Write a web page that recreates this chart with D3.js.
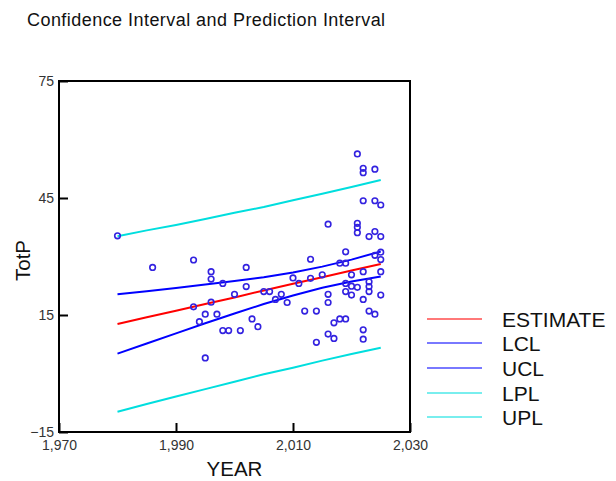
<!DOCTYPE html>
<html>
<head>
<meta charset="utf-8">
<script src="https://cdn.jsdelivr.net/npm/d3@7"></script>
<style>
  html, body { margin: 0; padding: 0; background: #fff; }
  svg { display: block; font-family: "Liberation Sans", Arial, Helvetica, sans-serif; }
</style>
</head>
<body>
<svg id="chart" width="616" height="481"></svg>
<script>
// Observed points: year and TotP
const obsYear = [
  1980, 1986, 1993, 1993, 1994, 1995, 1995, 1996, 1996, 1996, 1997, 1998, 1998, 1999,
  2000, 2001, 2002, 2002, 2003, 2004, 2005, 2006, 2007, 2008, 2009, 2010, 2011, 2012,
  2013, 2013, 2014, 2014, 2015, 2016, 2016, 2016, 2016, 2017, 2017, 2018, 2018,
  2019, 2019, 2019, 2019, 2019, 2020, 2020, 2020,
  2021, 2021, 2021, 2021, 2021,
  2022, 2022, 2022, 2022, 2022, 2022, 2022,
  2023, 2023, 2023, 2023, 2023,
  2024, 2024, 2024, 2024, 2024,
  2025, 2025, 2025, 2025, 2025, 2025
];
const obsTotP = [
  35.3, 27.2, 29.1, 17.1, 13.3, 15.2, 4.0, 26.1, 24.2, 18.3, 15.2, 23.1, 11.0, 11.0,
  20.3, 11.0, 27.2, 22.3, 14.0, 12.0, 21.0, 21.0, 19.0, 20.3, 18.2, 24.5, 23.1, 16.0,
  29.3, 24.4, 16.0, 8.0, 25.3, 38.3, 20.3, 18.2, 10.1, 13.0, 9.0, 28.3, 14.0,
  31.2, 28.3, 23.1, 21.0, 14.0, 25.3, 22.4, 20.1,
  56.3, 38.5, 37.5, 36.1, 22.1,
  52.6, 51.5, 44.3, 26.1, 19.0, 11.2, 8.8,
  35.1, 23.5, 22.3, 21.0, 16.0,
  52.4, 44.3, 36.4, 30.3, 15.2,
  43.2, 35.1, 31.1, 29.2, 26.1, 20.1
];

// Fitted line with confidence and prediction limits
const fitYear  = [1980, 1985, 1990, 1995, 2000, 2005, 2010, 2015, 2020, 2025];
const estimate = [12.7, 14.4, 16.1, 17.8, 19.5, 21.3, 23.0, 24.7, 26.4, 28.1];
const lcl      = [5.1, 7.7, 10.3, 12.9, 15.4, 17.8, 20.0, 22.0, 23.6, 24.9];
const ucl      = [20.3, 21.1, 21.9, 22.8, 23.7, 24.7, 25.9, 27.4, 29.2, 31.3];
const lpl      = [-9.8, -7.8, -5.9, -4.0, -2.1, -0.2, 1.5, 3.3, 5.0, 6.6];
const upl      = [35.2, 36.7, 38.1, 39.6, 41.2, 42.7, 44.4, 46.1, 47.8, 49.6];

const seriesNames  = ["ESTIMATE", "LCL", "UCL", "LPL", "UPL"];
const seriesValues = [estimate, lcl, ucl, lpl, upl];
const seriesColors = ["#ff0000", "#0000ff", "#0000ff", "#00dede", "#00dede"];

const xTicks = [1970, 1990, 2010, 2030];
const yTicks = [-15, 15, 45, 75];

const svg = d3.select("#chart");

const x = d3.scaleLinear().domain([1970, 2030]).range([59, 410]);
const y = d3.scaleLinear().domain([-15, 75]).range([432, 81]);

// Title
svg.append("text")
  .attr("x", 27).attr("y", 26)
  .attr("font-size", 18)
  .attr("letter-spacing", 0.45)
  .attr("fill", "#111")
  .text("Confidence Interval and Prediction Interval");

// Fit lines
const line = d3.line().x((d, i) => x(fitYear[i])).y(d => y(d));
seriesValues.forEach((vals, k) => {
  svg.append("path")
    .attr("d", line(vals))
    .attr("fill", "none")
    .attr("stroke", seriesColors[k])
    .attr("stroke-width", 2);
});

// Scatter points
svg.append("g")
  .selectAll("circle")
  .data(obsYear.map((yr, i) => [yr, obsTotP[i]]))
  .join("circle")
  .attr("cx", d => x(d[0]))
  .attr("cy", d => y(d[1]))
  .attr("r", 2.8)
  .attr("fill", "none")
  .attr("stroke", "#3322e0")
  .attr("stroke-width", 1.6);

// Axes with inward ticks
const xAxis = d3.axisBottom(x)
  .tickValues(xTicks)
  .tickFormat(d3.format(","))
  .tickSizeInner(-9).tickSizeOuter(0).tickPadding(8);
const gx = svg.append("g").attr("transform", "translate(0,432)").call(xAxis);

const yAxis = d3.axisLeft(y)
  .tickValues(yTicks)
  .tickSizeInner(-9).tickSizeOuter(0).tickPadding(5);
const gy = svg.append("g").attr("transform", "translate(59,0)").call(yAxis);

[gx, gy].forEach(g => {
  g.select(".domain").remove();
  g.selectAll(".tick line").attr("stroke", "#000").attr("stroke-width", 2);
  g.selectAll(".tick text")
    .attr("font-family", "'Liberation Sans', Arial, sans-serif")
    .attr("font-size", 14)
    .attr("fill", "#333");
});

// Plot frame
svg.append("rect")
  .attr("x", x(1970)).attr("y", y(75))
  .attr("width", x(2030) - x(1970))
  .attr("height", y(-15) - y(75))
  .attr("fill", "none")
  .attr("stroke", "#000")
  .attr("stroke-width", 2);

// Axis titles
svg.append("text")
  .attr("x", (x(1970) + x(2030)) / 2).attr("y", 476)
  .attr("text-anchor", "middle")
  .attr("font-size", 20.5)
  .attr("fill", "#111")
  .text("YEAR");

svg.append("text")
  .attr("transform", `translate(30,${(y(75) + y(-15)) / 2 + 4}) rotate(-90)`)
  .attr("text-anchor", "middle")
  .attr("font-size", 20.5)
  .attr("fill", "#111")
  .text("TotP");

// Legend
const legendY = [319, 343, 368, 393, 417];
const legend = svg.append("g");
seriesNames.forEach((name, k) => {
  legend.append("line")
    .attr("x1", 427).attr("x2", 482)
    .attr("y1", legendY[k]).attr("y2", legendY[k])
    .attr("stroke", seriesColors[k])
    .attr("stroke-opacity", 0.7)
    .attr("stroke-width", 1.5);
  legend.append("text")
    .attr("x", 502).attr("y", legendY[k])
    .attr("dy", "0.36em")
    .attr("font-size", 21)
    .attr("fill", "#111")
    .text(name);
});
</script>
</body>
</html>
